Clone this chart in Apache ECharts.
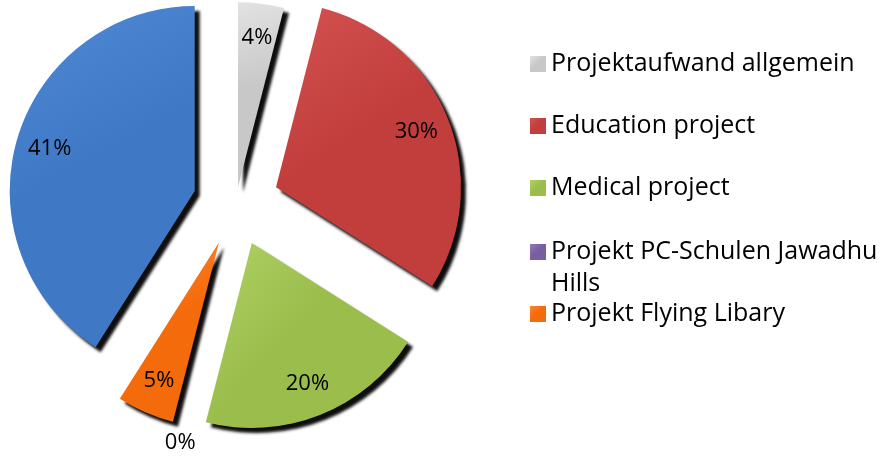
<!DOCTYPE html>
<html>
<head>
<meta charset="utf-8">
<script src="https://cdn.jsdelivr.net/npm/echarts@6/dist/echarts.min.js"></script>
<style>
  html, body { margin: 0; padding: 0; background: #fff; }
  #main { width: 891px; height: 457px; }
</style>
</head>
<body>
<div id="main"></div>
<script>
var categories = [
    'Projektaufwand allgemein',
    'Education project',
    'Medical project',
    'Projekt PC-Schulen Jawadhu Hills',
    'Projekt Flying Libary',
    'Sonstiges'
];
var values = [4, 30, 20, 0, 5, 41];
var legendNames = categories.slice(0, 5);

var baseColors = ['#c8c8c8', '#c13e3c', '#9abd4c', '#7a5ea2', '#f46b0c', '#3f78c5'];
var lightColors = ['#e2e2e2', '#d35250', '#b0d264', '#9479b8', '#ff8530', '#5089d4'];
var legendTops = [49, 111, 173, 204, 299];

var chartDom = document.getElementById('main');
var myChart = echarts.init(chartDom);
var option;

function grad(i) {
    return new echarts.graphic.LinearGradient(0, 0, 1, 1, [
        { offset: 0, color: lightColors[i] },
        { offset: 0.45, color: baseColors[i] },
        { offset: 1, color: baseColors[i] }
    ]);
}

var hidden = { color: 'rgba(0,0,0,0)', borderWidth: 0, shadowBlur: 0, shadowOffsetX: 0, shadowOffsetY: 0, shadowColor: 'rgba(0,0,0,0)' };

// the gray slice is pulled out less than the others
function slicesSeries(offset, useIdx) {
    return {
        type: 'pie',
        center: [236, 203],
        radius: 185,
        startAngle: 90,
        selectedMode: 'multiple',
        selectedOffset: offset,
        silent: true,
        label: { show: false },
        labelLine: { show: false },
        itemStyle: {
            borderWidth: 0,
            shadowColor: 'rgba(0,0,0,0.95)',
            shadowBlur: 3,
            shadowOffsetX: 5,
            shadowOffsetY: 5
        },
        emphasis: { disabled: true },
        data: categories.map(function (name, i) {
            var on = useIdx(i);
            return {
                name: name,
                value: values[i],
                selected: true,
                itemStyle: on ? { color: grad(i) } : hidden,
                select: { itemStyle: on ? { color: grad(i) } : hidden }
            };
        })
    };
}

function labelSeries(offset, useIdx) {
    return {
        type: 'pie',
        center: [236, 203],
        radius: [110, 186],
        startAngle: 90,
        selectedMode: 'multiple',
        selectedOffset: offset,
        silent: true,
        avoidLabelOverlap: false,
        percentPrecision: 0,
        itemStyle: hidden,
        select: { itemStyle: hidden },
        emphasis: { disabled: true },
        label: {
            show: true,
            position: 'inside',
            formatter: '{d}%',
            fontFamily: 'Open Sans',
            fontSize: 22,
            color: '#000'
        },
        labelLine: { show: false },
        data: categories.map(function (name, i) {
            var item = { name: name, value: values[i], selected: true };
            if (!useIdx(i)) {
                item.label = { show: false };
            } else if (values[i] === 0) {
                item.label = { position: 'outside' };
                item.labelLine = { show: false, length: 18, length2: -26 };
            }
            return item;
        })
    };
}

var isGray = function (i) { return i === 0; };
var notGray = function (i) { return i !== 0; };

option = {
    animation: false,
    color: baseColors,
    legend: legendNames.map(function (name, i) {
        return {
            data: [{ name: name, itemStyle: { color: grad(i), borderWidth: 0 } }],
            orient: 'vertical',
            left: 530,
            top: legendTops[i],
            padding: 0,
            itemWidth: 16,
            itemHeight: 16,
            icon: 'rect',
            selectedMode: false,
            formatter: function (n) {
                return n === 'Projekt PC-Schulen Jawadhu Hills' ? '\nProjekt PC-Schulen Jawadhu\nHills' : n;
            },
            textStyle: {
                fontFamily: 'Open Sans',
                fontSize: 25,
                color: '#000',
                lineHeight: i === 3 ? 32 : 30
            }
        };
    }),
    series: [
        slicesSeries(16, isGray),
        slicesSeries(43, notGray),
        labelSeries(16, isGray),
        labelSeries(43, notGray)
    ]
};

option && myChart.setOption(option);
</script>
</body>
</html>
